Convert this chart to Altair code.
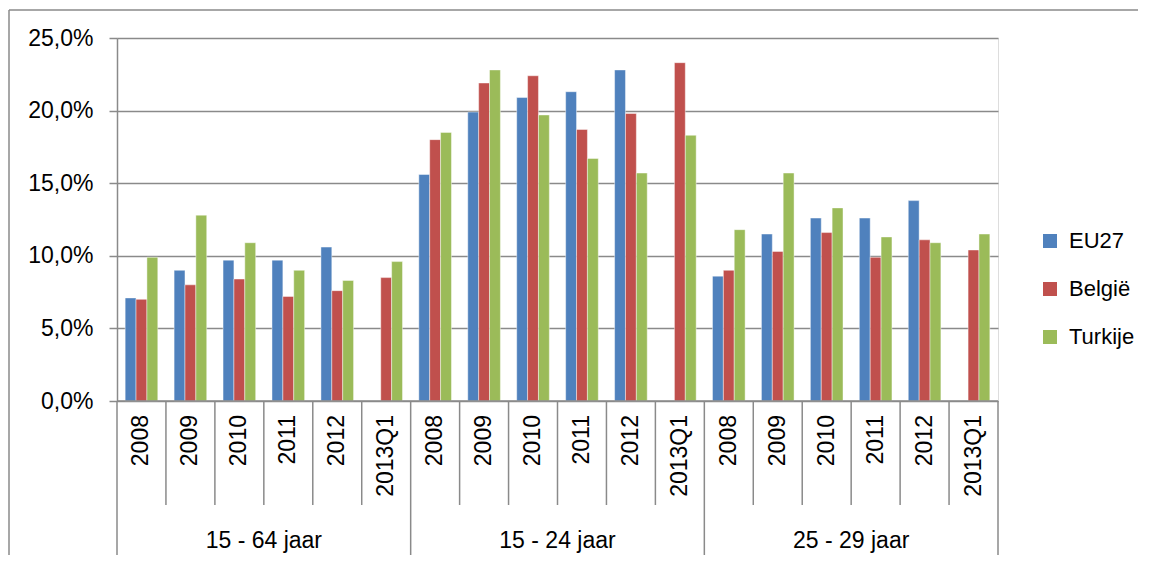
import altair as alt
import pandas as pd

groups = ["15 - 64 jaar", "15 - 24 jaar", "25 - 29 jaar"]
years = ["2008", "2009", "2010", "2011", "2012", "2013Q1"]
series = ["EU27", "België", "Turkije"]
colors = ["#4F81BD", "#C0504D", "#9BBB59"]

eu27_1564 = [7.1, 9.0, 9.7, 9.7, 10.6, None]
be_1564 = [7.0, 8.0, 8.4, 7.2, 7.6, 8.5]
tr_1564 = [9.9, 12.8, 10.9, 9.0, 8.3, 9.6]

eu27_1524 = [15.6, 19.9, 20.9, 21.3, 22.8, None]
be_1524 = [18.0, 21.9, 22.4, 18.7, 19.8, 23.3]
tr_1524 = [18.5, 22.8, 19.7, 16.7, 15.7, 18.3]

eu27_2529 = [8.6, 11.5, 12.6, 12.6, 13.8, None]
be_2529 = [9.0, 10.3, 11.6, 9.9, 11.1, 10.4]
tr_2529 = [11.8, 15.7, 13.3, 11.3, 10.9, 11.5]

y_ticks = [0, 5, 10, 15, 20, 25]

values = {
    groups[0]: [eu27_1564, be_1564, tr_1564],
    groups[1]: [eu27_1524, be_1524, tr_1524],
    groups[2]: [eu27_2529, be_2529, tr_2529],
}

keys = [f"{g}|{y}" for g in groups for y in years]

rows = []
for g in groups:
    for s, vals in zip(series, values[g]):
        for y, v in zip(years, vals):
            if v is not None:
                rows.append({"key": f"{g}|{y}", "group": g, "year": y, "series": s, "value": v})
bars_df = pd.DataFrame(rows)

cats_df = pd.DataFrame([{"key": f"{g}|{y}", "group": g, "year": y, "first": y == years[0]}
                        for g in groups for y in years])
short_sep = cats_df[~cats_df["first"]]
long_sep = cats_df[cats_df["first"]]
last_sep = cats_df.tail(1)
group_mid = cats_df[cats_df["year"] == years[3]]

FONT = "Liberation Sans"
GRID = "#8a8a8a"

xscale = alt.Scale(domain=keys, paddingInner=0, paddingOuter=0)

bars = alt.Chart(bars_df).mark_bar(stroke="#ffffff", strokeWidth=0.8, strokeOpacity=0.55).encode(
    x=alt.X("key:N", scale=xscale, axis=None, sort=keys),
    xOffset=alt.XOffset("series:N", scale=alt.Scale(domain=series, paddingInner=0, paddingOuter=0.75)),
    y=alt.Y("value:Q", scale=alt.Scale(domain=[0, 25], nice=False),
            axis=alt.Axis(values=y_ticks, title=None, grid=True, gridColor=GRID, gridWidth=1.5,
                          domainColor=GRID, domainWidth=1.5, tickColor=GRID, tickWidth=1.5,
                          tickSize=8, labelPadding=16, labelFont=FONT, labelFontSize=23,
                          labelColor="#000000",
                          labelExpr="replace(format(datum.value, '.1f'), '.', ',') + '%'")),
    color=alt.Color("series:N", scale=alt.Scale(domain=series, range=colors),
                    legend=alt.Legend(orient="none", legendX=922, legendY=192, title=None,
                                      symbolType="square", symbolSize=196, symbolStrokeWidth=0,
                                      labelFont=FONT, labelFontSize=22, labelColor="#000000",
                                      rowPadding=26, labelOffset=8, padding=0)),
)

xaxis_line = alt.Chart(cats_df.head(1)).mark_rule(color=GRID, strokeWidth=1.5).encode(
    x=alt.value(0), x2=alt.value(881), y=alt.value(363)
)

short_rules = alt.Chart(short_sep).mark_rule(color=GRID, strokeWidth=1.5).encode(
    x=alt.X("key:N", bandPosition=0, scale=xscale, axis=None, sort=keys),
    y=alt.value(363), y2=alt.value(467),
)
long_rules = alt.Chart(long_sep).mark_rule(color=GRID, strokeWidth=1.5).encode(
    x=alt.X("key:N", bandPosition=0, scale=xscale, axis=None, sort=keys),
    y=alt.value(363), y2=alt.value(520),
)
end_rule = alt.Chart(last_sep).mark_rule(color=GRID, strokeWidth=1.5).encode(
    x=alt.X("key:N", bandPosition=1, scale=xscale, axis=None, sort=keys),
    y=alt.value(363), y2=alt.value(520),
)

year_labels = alt.Chart(cats_df).mark_text(
    angle=270, align="right", baseline="middle", font=FONT, fontSize=23, color="#000000"
).encode(
    x=alt.X("key:N", scale=xscale, axis=None, sort=keys),
    y=alt.value(377),
    text="year:N",
)

group_labels = alt.Chart(group_mid).mark_text(
    align="center", baseline="alphabetic", font=FONT, fontSize=23, color="#000000"
).encode(
    x=alt.X("key:N", bandPosition=0, scale=xscale, axis=None, sort=keys),
    y=alt.value(510),
    text="group:N",
)

border_top = alt.Chart(cats_df.head(1)).mark_rule(color=GRID, strokeWidth=1.5).encode(
    x=alt.value(-108), x2=alt.value(1100), y=alt.value(-28)
)
border_left = alt.Chart(cats_df.head(1)).mark_rule(color=GRID, strokeWidth=1.5).encode(
    x=alt.value(-108), y=alt.value(-28), y2=alt.value(600)
)

chart = alt.layer(
    bars, xaxis_line, short_rules, long_rules, end_rule, year_labels, group_labels,
    border_top, border_left,
).properties(
    width=881, height=363,
    autosize=alt.AutoSizeParams(type="none"),
    padding={"left": 109, "top": 30, "right": 140, "bottom": 154},
).configure_view(stroke=None).configure(background="#ffffff")

chart.save("out.html", embed_options={"renderer": "svg", "actions": False})
